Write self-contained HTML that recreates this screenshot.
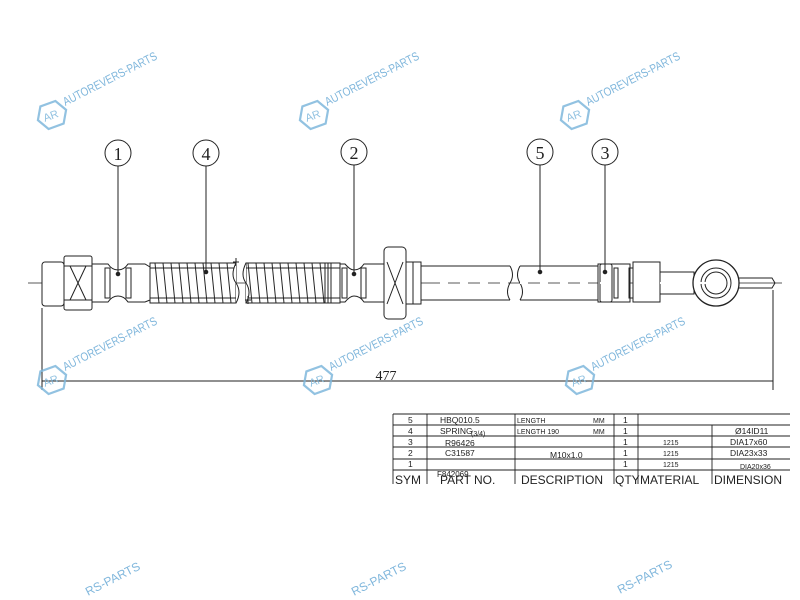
<!DOCTYPE html>
<html><head><meta charset="utf-8"><style>html,body{margin:0;padding:0;background:#fff;width:800px;height:600px;overflow:hidden}svg{display:block}</style></head>
<body>
<svg width="800" height="600" viewBox="0 0 800 600" xmlns="http://www.w3.org/2000/svg" font-family="Liberation Sans, sans-serif" overflow="hidden">
<defs>
<g id="wm">
  <polygon points="-8,-12 8,-12 15,0 8,12 -8,12 -15,0" fill="none" stroke="#7fb8dc" stroke-width="2.2" transform="rotate(-20)"/>
  <text x="-9" y="4" font-size="11" fill="#7fb8dc" transform="rotate(-20)">AR</text>
  <text x="16" y="-2" font-size="12" fill="#6aaad6" textLength="104" lengthAdjust="spacingAndGlyphs" transform="rotate(-27)">AUTOREVERS-PARTS</text>
</g>
</defs>
<g stroke="#222" fill="none" stroke-width="1">
<line x1="28" y1="283" x2="782" y2="283" stroke-width="0.8"/>
<rect x="42" y="262" width="22" height="44" rx="3" fill="#fff"/>
<rect x="64" y="256" width="28" height="54" rx="2" fill="#fff"/>
<path d="M70 266 L86 300 M86 266 L70 300"/>
<line x1="64" y1="266" x2="92" y2="266"/><line x1="64" y1="300" x2="92" y2="300"/>
<path d="M92 264 L108 264 Q112 270 118 270 Q124 270 128 264 L145 264 L150 267 L150 300 L145 302 L128 302 Q124 296 118 296 Q112 296 108 302 L92 302 Z" fill="#fff"/>
<rect x="105" y="268" width="5" height="30"/><rect x="126" y="268" width="5" height="30"/>
<circle cx="118" cy="274" r="1.8" fill="#222"/>
<rect x="150" y="263" width="86" height="40" fill="#fff"/>
<path d="M155 263 l4 40 M163 263 l4 40 M171 263 l4 40 M179 263 l4 40 M187 263 l4 40 M195 263 l4 40 M203 263 l4 40 M211 263 l4 40 M219 263 l4 40 M227 263 l4 40"/>
<line x1="150" y1="268" x2="236" y2="268"/><line x1="150" y1="298" x2="236" y2="298"/>
<circle cx="206" cy="272" r="1.8" fill="#222"/>
<path d="M236 263 Q230 275 236 283 Q242 292 236 303" fill="#fff"/>
<path d="M233 262 h6 M236 258 v8"/>
<rect x="246" y="263" width="94" height="40" fill="#fff"/>
<path d="M248 263 l4 40 M256 263 l4 40 M264 263 l4 40 M272 263 l4 40 M280 263 l4 40 M288 263 l4 40 M296 263 l4 40 M304 263 l4 40 M312 263 l4 40 M320 263 l4 40"/>
<line x1="246" y1="268" x2="340" y2="268"/><line x1="246" y1="298" x2="340" y2="298"/>
<path d="M246 263 Q240 275 246 283 Q252 292 246 303" fill="#fff"/>
<path d="M245 300 h6 M248 296 v8"/>
<path d="M325 263 v40 M328 263 v40 M331 263 v40"/>
<path d="M340 264 L345 264 Q350 270 354 270 Q360 270 364 264 L385 264 L385 302 L364 302 Q360 296 354 296 Q350 296 345 302 L340 302 Z" fill="#fff"/>
<rect x="342" y="268" width="5" height="30"/><rect x="361" y="268" width="5" height="30"/>
<circle cx="354" cy="274" r="1.8" fill="#222"/>
<rect x="384" y="247" width="22" height="72" rx="4" fill="#fff"/>
<path d="M387 262 L403 304 M403 262 L387 304"/>
<rect x="406" y="262" width="7" height="42" fill="#fff"/>
<rect x="413" y="262" width="8" height="42" fill="#fff"/>
<path d="M421 266 H510 M421 300 H510 M520 266 H598 M520 300 H598"/>
<path d="M510 266 Q515 275 510 283 Q505 292 510 300" fill="#fff"/>
<path d="M520 266 Q515 275 520 283 Q525 292 520 300" fill="#fff"/>
<circle cx="540" cy="272" r="1.8" fill="#222"/>
<path d="M598 264 L630 264 L630 302 L598 302 Z" fill="#fff"/>
<rect x="600" y="264" width="12" height="38" rx="2" fill="#fff"/>
<rect x="614" y="268" width="4" height="30"/><rect x="629" y="268" width="4" height="30"/>
<rect x="633" y="262" width="27" height="40" fill="#fff"/>
<circle cx="605" cy="272" r="1.8" fill="#222"/>
<rect x="660" y="272" width="34" height="22" fill="#fff"/>
<circle cx="716" cy="283" r="23" fill="#fff" stroke-width="1.3"/>
<circle cx="716" cy="283" r="15"/>
<circle cx="716" cy="283" r="11"/>
<path d="M739 278 H772 L775 283 L772 288 H739"/>
<line x1="440" y1="283" x2="720" y2="283" stroke="#fff" stroke-width="2" stroke-dasharray="8 12"/>
<circle cx="118" cy="153" r="13" fill="#fff"/><line x1="118" y1="166" x2="118" y2="274"/>
<circle cx="206" cy="153" r="13" fill="#fff"/><line x1="206" y1="166" x2="206" y2="272"/>
<circle cx="354" cy="152" r="13" fill="#fff"/><line x1="354" y1="165" x2="354" y2="274"/>
<circle cx="540" cy="152" r="13" fill="#fff"/><line x1="540" y1="165" x2="540" y2="272"/>
<circle cx="605" cy="152" r="13" fill="#fff"/><line x1="605" y1="165" x2="605" y2="272"/>
<line x1="42" y1="308" x2="42" y2="390"/>
<line x1="773" y1="290" x2="773" y2="390"/>
<line x1="42" y1="381" x2="773" y2="381"/>
<g stroke-width="0.9">
<line x1="393" y1="414" x2="790" y2="414"/>
<line x1="393" y1="425" x2="790" y2="425"/>
<line x1="393" y1="436" x2="790" y2="436"/>
<line x1="393" y1="447" x2="790" y2="447"/>
<line x1="393" y1="459" x2="790" y2="459"/>
<line x1="393" y1="470" x2="790" y2="470"/>
<line x1="393" y1="414" x2="393" y2="484"/>
<line x1="427" y1="414" x2="427" y2="484"/>
<line x1="515" y1="414" x2="515" y2="484"/>
<line x1="614" y1="414" x2="614" y2="484"/>
<line x1="638" y1="414" x2="638" y2="484"/>
<line x1="712" y1="425" x2="712" y2="484"/>
</g>
</g>
<g font-size="18" fill="#222" font-family="Liberation Serif, serif" text-anchor="middle">
<text x="118" y="160">1</text><text x="206" y="160">4</text><text x="354" y="159">2</text><text x="540" y="159">5</text><text x="605" y="159">3</text>
<text x="386" y="380" font-size="14">477</text>
</g>
<g font-size="8.5" fill="#222">
<text x="408" y="423">5</text><text x="440" y="423">HBQ010.5</text><text x="517" y="423" font-size="7">LENGTH</text><text x="593" y="423" font-size="7">MM</text><text x="623" y="423">1</text>
<text x="408" y="434">4</text><text x="440" y="434">SPRING</text><text x="471" y="436" font-size="7">(3/4)</text><text x="517" y="434" font-size="7">LENGTH  190</text><text x="593" y="434" font-size="7">MM</text><text x="623" y="434">1</text><text x="735" y="434">Ø14ID11</text>
<text x="408" y="445">3</text><text x="445" y="446">R96426</text><text x="623" y="445">1</text><text x="663" y="445" font-size="7">1215</text><text x="730" y="445">DIA17x60</text>
<text x="408" y="456">2</text><text x="445" y="456">C31587</text><text x="550" y="458">M10x1.0</text><text x="623" y="456">1</text><text x="663" y="456" font-size="7">1215</text><text x="730" y="456">DIA23x33</text>
<text x="408" y="467">1</text><text x="623" y="467">1</text><text x="663" y="467" font-size="7">1215</text><text x="740" y="469" font-size="7">DIA20x36</text>
<text x="437" y="477" font-size="8">F842069</text>
</g>
<g font-size="12" fill="#222">
<text x="395" y="484">SYM</text><text x="440" y="484">PART  NO.</text><text x="521" y="484">DESCRIPTION</text><text x="615" y="484">QTY</text><text x="640" y="484">MATERIAL</text><text x="714" y="484">DIMENSION</text>
</g>
<g opacity="0.85">
<use href="#wm" transform="translate(52,115)"/>
<use href="#wm" transform="translate(314,115)"/>
<use href="#wm" transform="translate(575,115)"/>
<use href="#wm" transform="translate(52,380)"/>
<use href="#wm" transform="translate(318,380)"/>
<use href="#wm" transform="translate(580,380)"/>
<text x="0" y="0" font-size="12" fill="#6aaad6" transform="translate(88,596) rotate(-27)">RS-PARTS</text>
<text x="0" y="0" font-size="12" fill="#6aaad6" transform="translate(354,596) rotate(-27)">RS-PARTS</text>
<text x="0" y="0" font-size="12" fill="#6aaad6" transform="translate(620,594) rotate(-27)">RS-PARTS</text>
</g>
</svg>
</body></html>
